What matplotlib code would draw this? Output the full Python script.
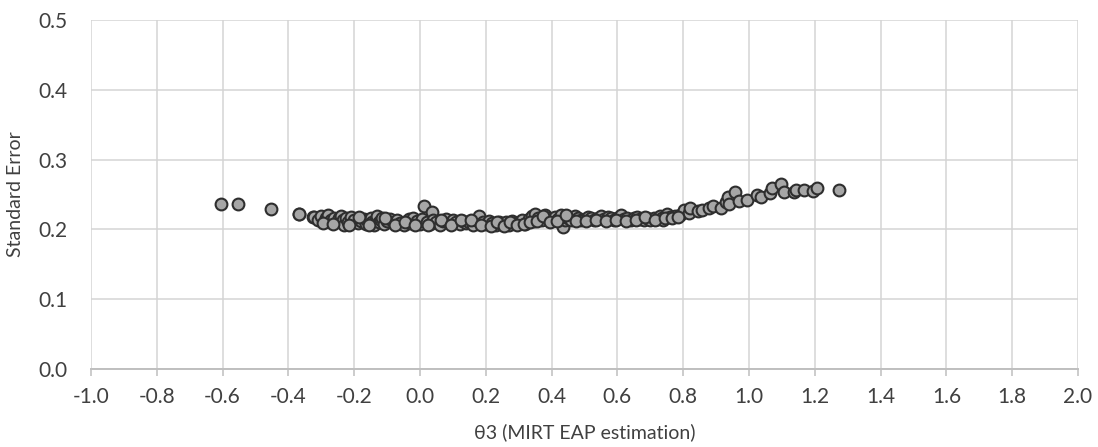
import matplotlib
matplotlib.use("Agg")
import matplotlib.pyplot as plt

# theta3 estimates and their standard errors
theta = [
    -0.606, -0.552, -0.453, -0.369, -0.367, -0.326, -0.322,
    -0.31, -0.30, -0.29, -0.285, -0.28, -0.275, -0.27, -0.26, -0.25, -0.245, -0.24, -0.235, -0.23, -0.225, -0.22, -0.21, -0.20,
    -0.19, -0.18, -0.17, -0.165, -0.16, -0.15, -0.145, -0.14, -0.135, -0.13, -0.125, -0.12, -0.115, -0.11, -0.10, -0.09, -0.08, -0.07, -0.06, -0.05, -0.04, -0.035, -0.03, -0.02, -0.01, 0.0,
    0.005, 0.012, 0.02, 0.03, 0.036, 0.04, 0.05, 0.06, 0.07, 0.08, 0.09, 0.10, 0.11, 0.12, 0.13, 0.14, 0.15, 0.16, 0.17, 0.18, 0.19, 0.20,
    0.21, 0.22, 0.23, 0.24, 0.25, 0.26, 0.27, 0.28, 0.29, 0.30, 0.31, 0.32, 0.33, 0.34, 0.345, 0.35, 0.36, 0.37, 0.38, 0.39, 0.40,
    0.41, 0.42, 0.43, 0.436, 0.44, 0.45, 0.46, 0.47, 0.48, 0.49, 0.50, 0.51, 0.52, 0.53, 0.54, 0.55, 0.56, 0.57, 0.58, 0.59, 0.60,
    0.61, 0.62, 0.63, 0.64, 0.65, 0.66, 0.67, 0.68, 0.69, 0.70, 0.71, 0.72, 0.73, 0.734, 0.74, 0.75, 0.76, 0.775, 0.79,
    0.802, 0.819, 0.821, 0.846, 0.856, 0.877, 0.892, 0.916, 0.931, 0.937, 0.939, 0.957, 0.97, 0.995,
    1.023, 1.036, 1.065, 1.071, 1.097, 1.105, 1.138, 1.143, 1.167, 1.193, 1.207, 1.274,
    # additional overlapping respondents inside the dense band
    -0.295, -0.265, -0.215, -0.185, -0.155, -0.105, -0.075, -0.045, -0.015,
    0.025, 0.065, 0.095, 0.125, 0.155, 0.185, 0.215, 0.235, 0.255, 0.275, 0.295,
    0.315, 0.335, 0.355, 0.375, 0.395, 0.415, 0.445, 0.475, 0.505, 0.535, 0.565,
    0.595, 0.625, 0.655, 0.685, 0.715, 0.745, 0.765, 0.785,
]
std_error = [
    0.237, 0.236, 0.2297, 0.2225, 0.2216, 0.218, 0.218,
    0.214, 0.219, 0.212, 0.216, 0.220, 0.210, 0.214, 0.217, 0.212, 0.216, 0.219, 0.213, 0.206, 0.216, 0.211, 0.218, 0.214,
    0.209, 0.212, 0.215, 0.208, 0.213, 0.217, 0.211, 0.207, 0.214, 0.219, 0.210, 0.213, 0.216, 0.208, 0.212, 0.215, 0.210, 0.213, 0.209, 0.207, 0.212, 0.215, 0.209, 0.217, 0.212, 0.208,
    0.215, 0.2335, 0.211, 0.208, 0.225, 0.214, 0.210, 0.207, 0.212, 0.215, 0.209, 0.213, 0.210, 0.208, 0.212, 0.209, 0.211, 0.207, 0.214, 0.219, 0.210, 0.208,
    0.212, 0.209, 0.206, 0.211, 0.208, 0.210, 0.207, 0.212, 0.209, 0.211, 0.213, 0.208, 0.215, 0.219, 0.212, 0.222, 0.217, 0.214, 0.220, 0.216, 0.213,
    0.218, 0.215, 0.220, 0.204, 0.213, 0.217, 0.214, 0.219, 0.216, 0.213, 0.215, 0.218, 0.216, 0.214, 0.217, 0.219, 0.215, 0.218, 0.216, 0.214, 0.217,
    0.220, 0.215, 0.217, 0.214, 0.216, 0.218, 0.215, 0.213, 0.216, 0.214, 0.217, 0.215, 0.219, 0.217, 0.214, 0.222, 0.218, 0.219, 0.221,
    0.2278, 0.224, 0.230, 0.2264, 0.2278, 0.230, 0.2335, 0.230, 0.2398, 0.247, 0.236, 0.253, 0.2407, 0.2415,
    0.249, 0.247, 0.2527, 0.259, 0.265, 0.253, 0.254, 0.2565, 0.257, 0.2555, 0.260, 0.2565,
    0.209, 0.208, 0.207, 0.218, 0.206, 0.217, 0.207, 0.210, 0.206,
    0.206, 0.214, 0.206, 0.214, 0.213, 0.206, 0.205, 0.211, 0.205, 0.210, 0.206,
    0.208, 0.211, 0.212, 0.219, 0.211, 0.212, 0.220, 0.212, 0.212, 0.213, 0.212,
    0.213, 0.212, 0.213, 0.218, 0.213, 0.217, 0.216, 0.218,
]

x_ticks = [-1.0, -0.8, -0.6, -0.4, -0.2, 0.0, 0.2, 0.4, 0.6, 0.8, 1.0, 1.2, 1.4, 1.6, 1.8, 2.0]
y_ticks = [0.0, 0.1, 0.2, 0.3, 0.4, 0.5]

plt.rcParams['font.family'] = ['Lato', 'DejaVu Sans']

fig = plt.figure(figsize=(10.98, 4.47), dpi=100)
ax = fig.add_axes([0.0829, 0.1745, 0.8989, 0.7808])

ax.scatter(theta, std_error, s=72, facecolor='#A6A6A6', edgecolor='#2E2E2E',
           linewidth=1.5, zorder=3)

ax.set_xlim(-1.0, 2.0)
ax.set_ylim(0.0, 0.5)
ax.set_xticks(x_ticks)
ax.set_yticks(y_ticks)
ax.set_xticklabels([f"{v:.1f}" for v in x_ticks])
ax.set_yticklabels([f"{v:.1f}" for v in y_ticks])
ax.grid(True, color='#D4D4D4', linewidth=1.1, zorder=0)
ax.set_axisbelow(True)

for side in ['top', 'right', 'left']:
    ax.spines[side].set_visible(False)
ax.spines['bottom'].set_color('#BFBFBF')
ax.spines['bottom'].set_linewidth(1.4)

ax.tick_params(axis='x', length=5, width=1.1, color='#BFBFBF', labelsize=15, labelcolor='#404040', pad=8)
ax.tick_params(axis='y', length=0, labelsize=15, labelcolor='#404040', pad=17)

ax.set_xlabel("θ3 (MIRT EAP estimation)", fontsize=14, color='#404040', labelpad=12)
ax.set_ylabel("Standard Error", fontsize=14, color='#404040', labelpad=10)

fig.savefig("out.png", dpi=100)
